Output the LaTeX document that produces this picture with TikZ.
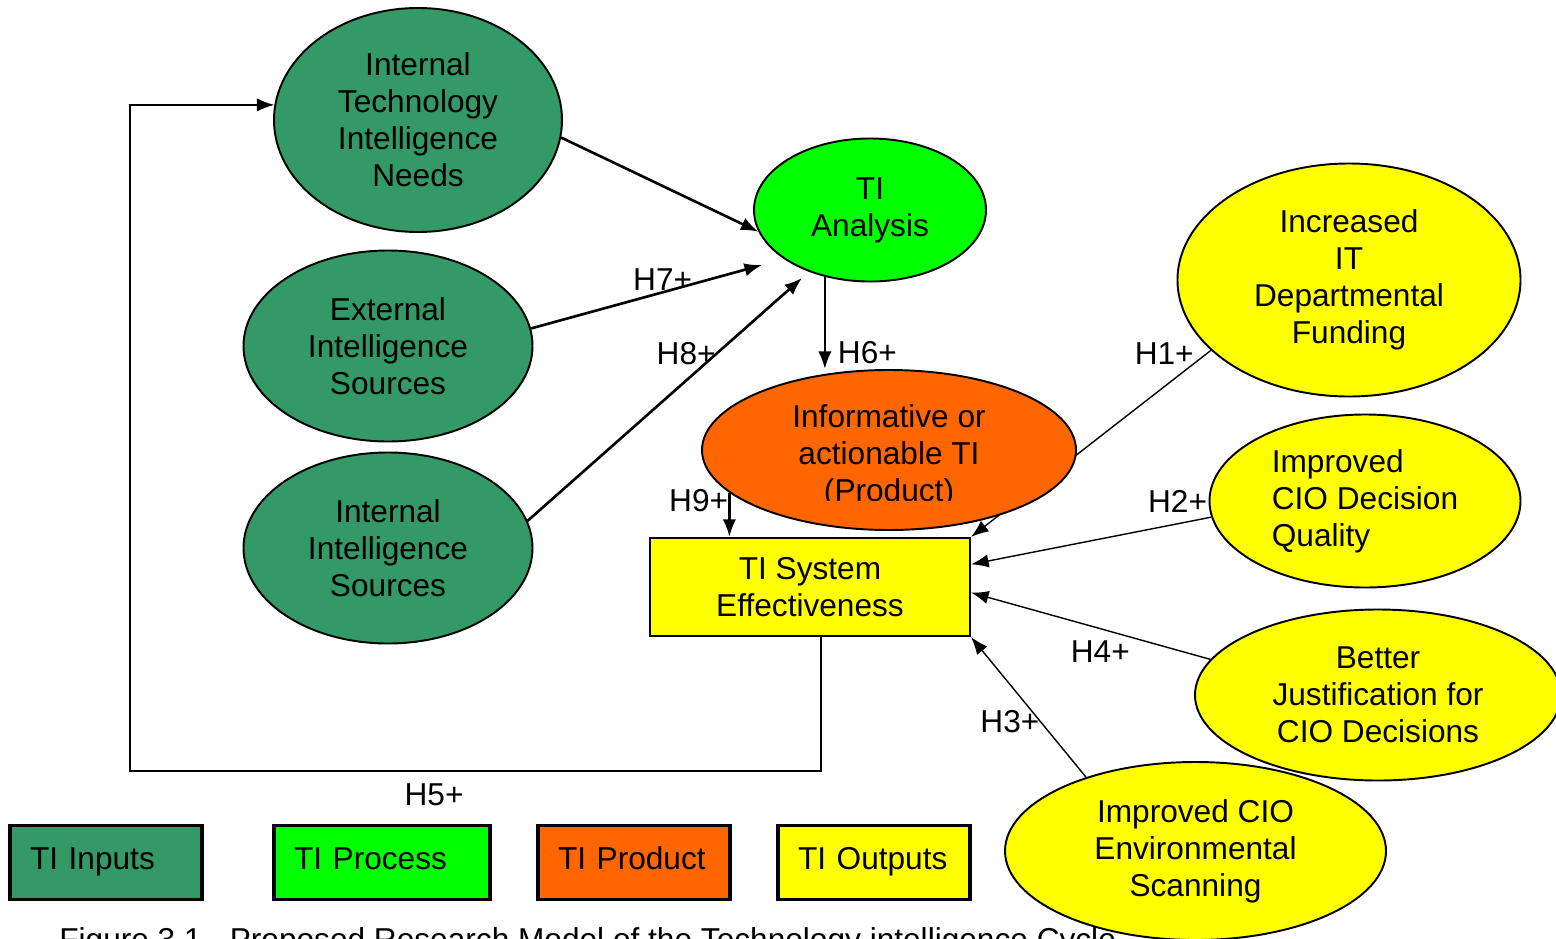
\documentclass[tikz,border=0pt]{standalone}
\usepackage{fontspec}
\setmainfont{Liberation Sans}
\usetikzlibrary{shapes.geometric,calc,arrows.meta}
\pgfdeclarelayer{background}
\pgfsetlayers{background,main}
\definecolor{tiinput}{HTML}{339966}
\definecolor{tiprocess}{HTML}{00FF00}
\definecolor{tiproduct}{HTML}{FF6600}
\definecolor{tioutput}{HTML}{FFFF00}
\tikzset{
  hyp/.style={draw, ellipse, inner sep=0pt, align=center, line width=0.55pt},
  legendbox/.style={draw, rectangle, line width=0.9pt, minimum height=0.71cm, inner xsep=0.2cm, align=left,
    text height=1.75ex, text depth=0.95ex},
}
\begin{document}
\begin{tikzpicture}[>={Latex[length=5pt,width=3.8pt]}, line width=0.75pt, font=\fontsize{9}{10.5}\selectfont]
\useasboundingbox (0,0) rectangle (15.56,-9.38);
\node[anchor=base west, inner sep=0pt] (caption) at (0.58,-9.50) {Figure 3.1 - Proposed Research Model of the Technology intelligence Cycle};

\node[hyp, fill=tiinput, minimum width=2.88cm, minimum height=2.24cm] (itin) at (4.18,-1.20) {Internal\\Technology\\Intelligence\\Needs};
\node[hyp, fill=tiprocess, minimum width=2.32cm, minimum height=1.43cm] (analysis) at (8.70,-2.10) {TI\\Analysis};
\node[hyp, fill=tiinput, minimum width=2.89cm, minimum height=1.91cm] (eis) at (3.88,-3.46) {External\\Intelligence\\Sources};
\node[hyp, fill=tiinput, minimum width=2.89cm, minimum height=1.91cm] (iis) at (3.88,-5.48) {Internal\\Intelligence\\Sources};
\node[hyp, fill=tiproduct, minimum width=3.74cm, minimum height=1.60cm] (product) at (8.89,-4.50) {};
\begin{scope}
\clip (7.00,-3.70) rectangle (10.80,-5.00);
\node[align=center] (producttext) at (8.89,-4.56) {Informative or\\actionable TI\\(Product)};
\end{scope}
\node[hyp, fill=tioutput, minimum width=3.43cm, minimum height=2.33cm] (funding) at (13.49,-2.80) {Increased\\IT\\Departmental\\Funding};
\node[hyp, fill=tioutput, align=left, minimum width=3.11cm, minimum height=1.73cm] (quality) at (13.65,-5.01) {Improved\\CIO Decision\\Quality};
\node[hyp, fill=tioutput, minimum width=3.66cm, minimum height=1.71cm] (justify) at (13.78,-6.95) {Better\\Justification for\\CIO Decisions};
\node[hyp, fill=tioutput, minimum width=3.81cm, minimum height=1.78cm] (scanning) at (11.955,-8.51) {Improved CIO\\Environmental\\Scanning};
\node[draw, rectangle, fill=tioutput, line width=0.6pt, minimum width=3.20cm, minimum height=0.98cm, align=center] (tisys) at (8.10,-5.87) {TI System\\Effectiveness};

% legend
\node[legendbox, fill=tiinput, text width=1.52cm] (leginputs) at (1.06,-8.625) {TI Inputs};
\node[legendbox, fill=tiprocess, text width=1.76cm] (legprocess) at (3.82,-8.625) {TI Process};
\node[legendbox, fill=tiproduct, text width=1.52cm] (legproduct) at (6.34,-8.625) {TI Product};
\node[legendbox, fill=tioutput, text width=1.52cm] (legoutputs) at (8.74,-8.625) {TI Outputs};

% hypotheses
\draw[->] (itin.-7) -- (analysis.191);
\draw[->] (eis.7) -- node[pos=0.57, above, inner sep=0pt] {H7+} ($(analysis.center)+(-1.08,-0.55)$);
\draw[->] (iis.11) -- node[pos=0.69, left, inner sep=0pt] {H8+} ($(analysis.center)+(-0.68,-0.68)$);
\draw[->] (analysis.-124) -- node[pos=0.82, right] {H6+} (analysis.-124 |- product.north);
\draw[->] (product.-165) -- node[pos=0.17, left, inner sep=0pt] {H9+} (product.-165 |- tisys.north);
\begin{pgfonlayer}{background}
\draw[->] (funding.-153) -- node[pos=0.02, left] {H1+} (tisys.north east);
\end{pgfonlayer}
\draw[->] (quality.-174) -- node[pos=0, above left, inner sep=1pt] {H2+} (tisys.8.5);
\draw[->] (justify.168) -- node[pos=0.46, below] {H4+} (tisys.-2);
\draw[->] (scanning.146) -- node[pos=0.4, left, inner sep=0pt] {H3+} (tisys.south east);
\coordinate (loopcorner) at (1.30,-7.71);
\draw[->] ($(tisys.south)+(0.11,0)$) |- node[pos=0.78, below] {H5+} (loopcorner) |- (itin.174);
\end{tikzpicture}
\end{document}
